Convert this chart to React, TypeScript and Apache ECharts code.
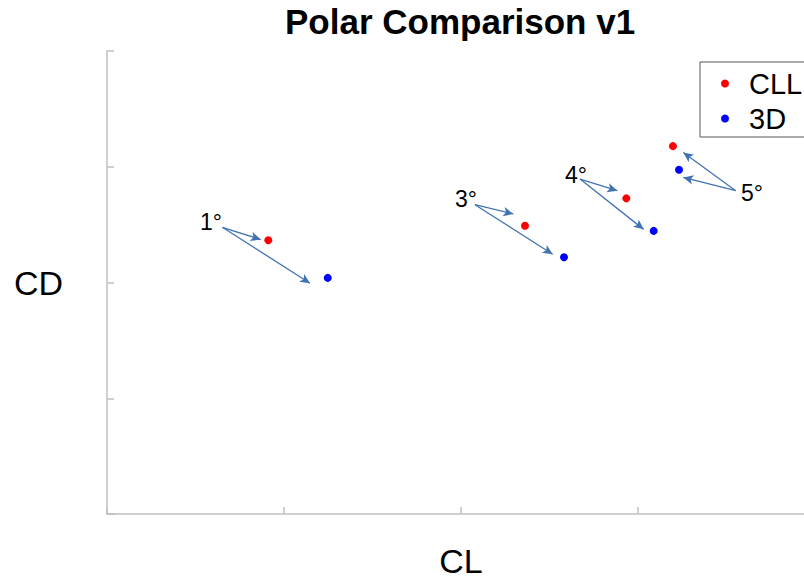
import React, { useEffect, useRef } from "react";
import * as echarts from "echarts";

// Angles of attack
const angles = ["1°", "3°", "4°", "5°"];
// CLL results (CL, CD)
const cllCL = [0.1823, 0.4723, 0.5868, 0.6395];
const cllCD = [0.02365, 0.02491, 0.02727, 0.03178];
// 3D results (CL, CD)
const d3CL = [0.2494, 0.5164, 0.6177, 0.6463];
const d3CD = [0.0204, 0.02218, 0.02446, 0.02974];
// Annotation label anchor (CL, CD) and arrow start/targets, in data units
const noteCL = [0.1175, 0.4056, 0.5299, 0.7288];
const noteCD = [0.02522, 0.0272, 0.02931, 0.02776];
const arrowStartCL = [0.1303, 0.4158, 0.5345, 0.7104];
const arrowStartCD = [0.02477, 0.02672, 0.02894, 0.02793];
const arrowCllCL = [0.1737, 0.4591, 0.5766, 0.6512];
const arrowCllCD = [0.02371, 0.02592, 0.02793, 0.03123];
const arrow3dCL = [0.2294, 0.5036, 0.6064, 0.6512];
const arrow3dCD = [0.01994, 0.02244, 0.02459, 0.02908];

const FONT = "'Liberation Sans', Arial, Helvetica, sans-serif";

export default function App() {
  const ref = useRef<HTMLDivElement>(null);
  useEffect(() => {
    if (!ref.current) return;
    const chart = echarts.init(ref.current, null, { renderer: "svg" });
    const arrows: any[] = [];
    angles.forEach((_, i) => {
      arrows.push([
        { coord: [arrowStartCL[i], arrowStartCD[i]] },
        { coord: [arrowCllCL[i], arrowCllCD[i]] },
      ]);
      arrows.push([
        { coord: [arrowStartCL[i], arrowStartCD[i]] },
        { coord: [arrow3dCL[i], arrow3dCD[i]] },
      ]);
    });
    chart.setOption({
      animation: false,
      backgroundColor: "#ffffff",
      textStyle: { fontFamily: FONT },
      title: {
        text: "Polar Comparison v1",
        left: 285,
        top: 4,
        padding: 0,
        textStyle: { fontFamily: FONT, fontSize: 35, fontWeight: "bold", color: "#000" },
      },
      legend: {
        data: ["CLL", "3D"],
        orient: "vertical",
        left: 700,
        top: 62,
        padding: [7, 6, 4, 21],
        itemGap: 6,
        itemWidth: 8,
        itemHeight: 8,
        icon: "circle",
        borderColor: "#555",
        borderWidth: 1,
        borderRadius: 0,
        textStyle: { fontFamily: FONT, fontSize: 29, color: "#000", padding: [0, 0, 0, 15] },
      },
      grid: { left: 107, top: 51, bottom: 65, right: 15, containLabel: false, outerBoundsMode: "none" },
      xAxis: {
        type: "value",
        min: 0,
        max: 0.8,
        interval: 0.2,
        name: "CL",
        nameLocation: "middle",
        nameGap: 30,
        nameTextStyle: { fontFamily: FONT, fontSize: 34, lineHeight: 34, color: "#000" },
        axisLine: { show: true, lineStyle: { color: "#bfbfbf", width: 1.5 } },
        axisTick: { show: true, inside: true, length: 7, lineStyle: { color: "#bfbfbf", width: 1.5 } },
        axisLabel: { show: false },
        splitLine: { show: false },
      },
      yAxis: {
        type: "value",
        min: 0,
        max: 0.04,
        interval: 0.01,
        name: "CD",
        nameLocation: "middle",
        nameRotate: 0,
        nameGap: 44,
        nameTextStyle: { fontFamily: FONT, fontSize: 34, color: "#000", padding: [12, 0, 0, 0] },
        axisLine: { show: true, lineStyle: { color: "#bfbfbf", width: 1.5 } },
        axisTick: { show: true, inside: true, length: 7, lineStyle: { color: "#bfbfbf", width: 1.5 } },
        axisLabel: { show: false },
        splitLine: { show: false },
      },
      series: [
        {
          name: "CLL",
          type: "scatter",
          symbol: "circle",
          symbolSize: 8,
          itemStyle: { color: "#ff0000", opacity: 1 },
          data: cllCL.map((x, i) => [x, cllCD[i]]),
          z: 5,
        },
        {
          name: "3D",
          type: "scatter",
          symbol: "circle",
          symbolSize: 8,
          itemStyle: { color: "#0000ff", opacity: 1 },
          data: d3CL.map((x, i) => [x, d3CD[i]]),
          z: 5,
        },
        {
          name: "notes",
          type: "scatter",
          symbolSize: 2,
          silent: true,
          itemStyle: { color: "rgba(255,255,255,0)" },
          label: {
            show: true,
            position: "inside",
            formatter: (p: any) => angles[p.dataIndex],
            fontFamily: FONT,
            fontSize: 23,
            fontWeight: "normal",
            color: "#000000",
            textBorderWidth: 0,
            opacity: 1,
          },
          data: noteCL.map((x, i) => [x, noteCD[i]]),
          markLine: {
            silent: true,
            symbol: ["none", "arrow"],
            symbolSize: [7, 10],
            label: { show: false },
            lineStyle: { color: "#4173b4", width: 1.3, type: "solid" },
            emphasis: { disabled: true },
            data: arrows,
          },
        },
      ],
    });
    return () => chart.dispose();
  }, []);
  return (
    <div style={{ position: "fixed", left: 0, top: 0, width: 804, height: 579, overflow: "hidden", background: "#fff" }}>
      <div ref={ref} style={{ width: 830, height: 579 }} />
    </div>
  );
}
